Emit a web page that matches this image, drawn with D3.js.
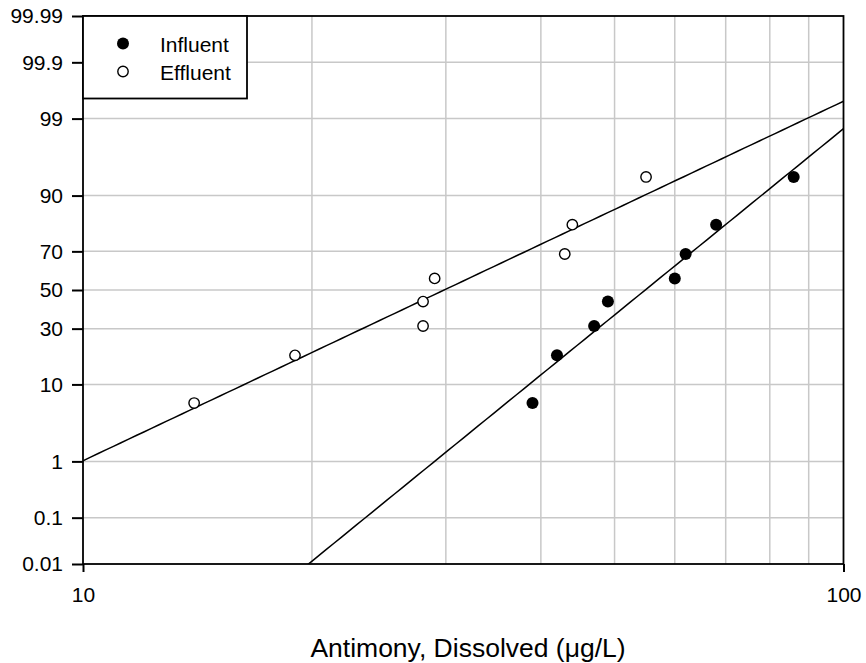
<!DOCTYPE html>
<html>
<head>
<meta charset="utf-8">
<script src="https://cdn.jsdelivr.net/npm/d3@7"></script>
<style>
  html, body { margin: 0; padding: 0; background: #fff; }
  svg { display: block; font-family: "Liberation Sans", Arial, Helvetica, sans-serif; }
</style>
</head>
<body>
<svg id="chart" width="866" height="663"></svg>
<script>
// ---- data ----
const influent = [39, 42, 47, 49, 60, 62, 68, 86];          // µg/L, sorted
const effluent = [14, 19, 28, 28, 29, 43, 44, 55];          // µg/L, sorted
const plotPercent = [6.25, 18.75, 31.25, 43.75, 56.25, 68.75, 81.25, 93.75]; // cumulative %
const yTickLabels = ["0.01", "0.1", "1", "10", "30", "50", "70", "90", "99", "99.9", "99.99"];
const yTickValues = [0.01, 0.1, 1, 10, 30, 50, 70, 90, 99, 99.9, 99.99];
const xTickValues = [10, 100];
const xGridValues = [20, 30, 40, 50, 60, 70, 80, 90];
const seriesNames = ["Influent", "Effluent"];
const xTitle = "Antimony, Dissolved (\u03BCg/L)";

// ---- inverse normal CDF (Acklam) ----
function probit(p) {
  const a = [-3.969683028665376e+01, 2.209460984245205e+02, -2.759285104469687e+02, 1.383577518672690e+02, -3.066479806614716e+01, 2.506628277459239e+00];
  const b = [-5.447609879822406e+01, 1.615858368580409e+02, -1.556989798598866e+02, 6.680131188771972e+01, -1.328068155288572e+01];
  const c = [-7.784894002430293e-03, -3.223964580411365e-01, -2.400758277161838e+00, -2.549732539343734e+00, 4.374664141464968e+00, 2.938163982698783e+00];
  const d = [7.784695709041462e-03, 3.224671290700398e-01, 2.445134137142996e+00, 3.754408661907416e+00];
  const pl = 0.02425, ph = 1 - pl;
  let q, r;
  if (p < pl) {
    q = Math.sqrt(-2 * Math.log(p));
    return (((((c[0]*q+c[1])*q+c[2])*q+c[3])*q+c[4])*q+c[5]) / ((((d[0]*q+d[1])*q+d[2])*q+d[3])*q+1);
  } else if (p <= ph) {
    q = p - 0.5; r = q*q;
    return (((((a[0]*r+a[1])*r+a[2])*r+a[3])*r+a[4])*r+a[5])*q / (((((b[0]*r+b[1])*r+b[2])*r+b[3])*r+b[4])*r+1);
  } else {
    q = Math.sqrt(-2 * Math.log(1 - p));
    return -(((((c[0]*q+c[1])*q+c[2])*q+c[3])*q+c[4])*q+c[5]) / ((((d[0]*q+d[1])*q+d[2])*q+d[3])*q+1);
  }
}

// ---- layout ----
const L = 83, R = 843.5, T = 16, B = 564;
const FS = 21;
const svg = d3.select("#chart");

const x = d3.scaleLog().domain([10, 100]).range([L, R]);
const y = d3.scaleLinear().domain([probit(0.0001), probit(0.9999)]).range([B, T]);
const yP = pct => y(probit(pct / 100));

// clip
svg.append("defs").append("clipPath").attr("id", "plotclip")
  .append("rect").attr("x", L).attr("y", T).attr("width", R - L).attr("height", B - T);

// grid
const grid = svg.append("g").attr("stroke", "#c8c8c8").attr("stroke-width", 1.5);
grid.selectAll("line.h").data(yTickValues.slice(1, -1)).join("line")
  .attr("x1", L).attr("x2", R).attr("y1", d => yP(d)).attr("y2", d => yP(d));
grid.selectAll("line.v").data(xGridValues).join("line")
  .attr("y1", T).attr("y2", B).attr("x1", d => x(d)).attr("x2", d => x(d));

// regression fit (z on log10 x)
function fit(vals) {
  const lx = vals.map(v => Math.log10(v));
  const z = plotPercent.map(p => probit(p / 100));
  const mx = d3.mean(lx), mz = d3.mean(z);
  let sxy = 0, sxx = 0;
  lx.forEach((v, i) => { sxy += (v - mx) * (z[i] - mz); sxx += (v - mx) * (v - mx); });
  const slope = sxy / sxx;
  return lv => mz + slope * (lv - mx);
}
const lines = svg.append("g").attr("clip-path", "url(#plotclip)");
[influent, effluent].forEach(vals => {
  const f = fit(vals);
  const pts = d3.range(0, 101).map(i => 10 * Math.pow(10, i / 100));
  lines.append("path")
    .attr("d", d3.line().x(d => x(d)).y(d => y(f(Math.log10(d))))(pts))
    .attr("fill", "none").attr("stroke", "#000").attr("stroke-width", 1.5);
});

// points
const pts = svg.append("g");
pts.selectAll("circle.inf").data(influent).join("circle")
  .attr("cx", d => x(d)).attr("cy", (d, i) => yP(plotPercent[i])).attr("r", 6)
  .attr("fill", "#000");
pts.selectAll("circle.eff").data(effluent).join("circle")
  .attr("cx", d => x(d)).attr("cy", (d, i) => yP(plotPercent[i])).attr("r", 5.2)
  .attr("fill", "#fff").attr("stroke", "#000").attr("stroke-width", 1.4);

// frame
svg.append("rect").attr("x", L).attr("y", T).attr("width", R - L).attr("height", B - T)
  .attr("fill", "none").attr("stroke", "#000").attr("stroke-width", 1.8);

// axes
const yAxis = d3.axisLeft(y)
  .tickValues(yTickValues.map(p => probit(p / 100)))
  .tickFormat((d, i) => yTickLabels[i])
  .tickSize(11).tickPadding(9);
const gy = svg.append("g").attr("transform", `translate(${L},0)`).call(yAxis);
gy.attr("font-size", FS).attr("font-family", "Liberation Sans, Arial, sans-serif");
gy.select(".domain").remove();
gy.selectAll("line").attr("stroke", "#000").attr("stroke-width", 2);
gy.selectAll("text").attr("fill", "#000");

const xAxis = d3.axisBottom(x).tickValues(xTickValues).tickFormat(d3.format("d"))
  .tickSize(8).tickPadding(15);
const gx = svg.append("g").attr("transform", `translate(0,${B})`).call(xAxis);
gx.attr("font-size", FS).attr("font-family", "Liberation Sans, Arial, sans-serif");
gx.select(".domain").remove();
gx.selectAll("line").attr("stroke", "#000").attr("stroke-width", 2);
gx.selectAll("text").attr("fill", "#000");

// x title
svg.append("text").attr("x", 468).attr("y", 657)
  .attr("text-anchor", "middle").attr("font-size", 26.5).attr("fill", "#000")
  .text(xTitle);

// legend
const lg = svg.append("g");
lg.append("rect").attr("x", L).attr("y", T).attr("width", 164).attr("height", 82.5)
  .attr("fill", "#fff").attr("stroke", "#000").attr("stroke-width", 1.8);
const legRows = [
  { name: seriesNames[0], fill: "#000", r: 6, sw: 0 },
  { name: seriesNames[1], fill: "#fff", r: 5.2, sw: 1.4 }
];
legRows.forEach((d, i) => {
  const cy = 43.5 + i * 28;
  lg.append("circle").attr("cx", 123).attr("cy", cy).attr("r", d.r)
    .attr("fill", d.fill).attr("stroke", "#000").attr("stroke-width", d.sw);
  lg.append("text").attr("x", 160).attr("y", cy + 8.5).attr("font-size", FS).attr("fill", "#000").text(d.name);
});
</script>
</body>
</html>
